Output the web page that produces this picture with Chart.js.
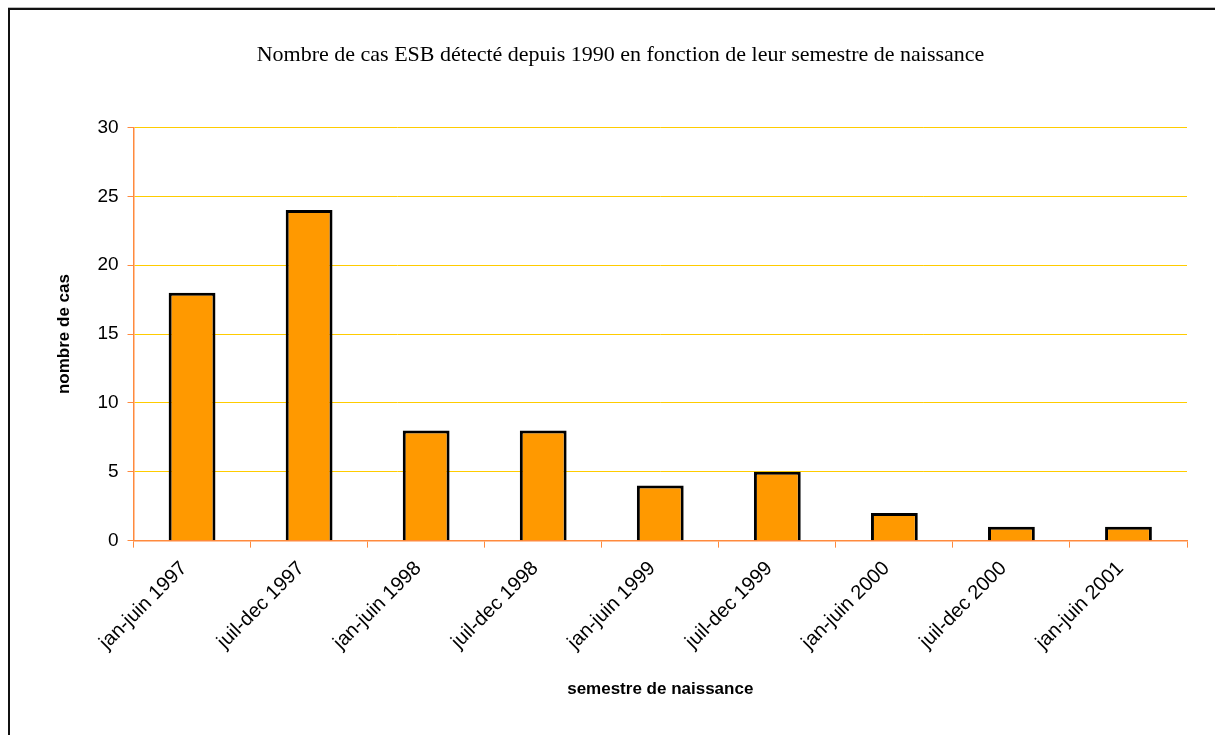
<!DOCTYPE html>
<html>
<head>
<meta charset="utf-8">
<script src="https://cdn.jsdelivr.net/npm/chart.js@4"></script>
<style>
  html, body { margin: 0; padding: 0; background: #fff; overflow: hidden; }
  #frame {
    position: absolute; left: 8px; top: 8px;
    width: 1260px; height: 780px;
    border: 2px solid #111;
    box-shadow: 0 -1px 0 #bbb;
  }
  #wrap { position: absolute; left: 0; top: 0; width: 1215px; height: 735px; }
</style>
</head>
<body>
<div id="frame"></div>
<div id="wrap"><canvas id="c" width="1215" height="735"></canvas></div>
<script>
const categories = [
  'jan-juin 1997', 'juil-dec 1997', 'jan-juin 1998', 'juil-dec 1998',
  'jan-juin 1999', 'juil-dec 1999', 'jan-juin 2000', 'juil-dec 2000', 'jan-juin 2001'
];
const cases = [18, 24, 8, 8, 4, 5, 2, 1, 1];
const yTicks = [0, 5, 10, 15, 20, 25, 30];

const chartTitle = 'Nombre de cas ESB détecté depuis 1990 en fonction de leur semestre de naissance';
const xTitle = 'semestre de naissance';
const yTitle = 'nombre de cas';

const axisOrange = '#FF8A3D';
const gridGold = '#FFCC00';

new Chart(document.getElementById('c'), {
  type: 'bar',
  data: {
    labels: categories,
    datasets: [{
      data: cases,
      backgroundColor: '#FF9900',
      borderColor: '#000000',
      borderWidth: 3,
      barPercentage: 0.4,
      categoryPercentage: 1.0
    }]
  },
  options: {
    responsive: false,
    animation: false,
    events: [],
    layout: { padding: { left: 54, right: 28, top: 24, bottom: 35 } },
    plugins: {
      legend: { display: false },
      tooltip: { enabled: false },
      title: {
        display: true,
        text: chartTitle,
        color: '#000',
        font: { family: '"Liberation Serif", "Times New Roman", serif', size: 22, weight: 'normal' },
        padding: { top: 18, bottom: 59 }
      }
    },
    scales: {
      x: {
        grid: {
          display: true,
          offset: true,
          drawOnChartArea: false,
          drawTicks: true,
          tickLength: 7,
          tickColor: axisOrange,
          color: axisOrange
        },
        border: { display: true, color: axisOrange, width: 1.5 },
        ticks: {
          color: '#000',
          minRotation: 45,
          maxRotation: 45,
          padding: 9,
          labelOffset: -8,
          font: { family: '"Liberation Sans", Arial, sans-serif', size: 20 }
        },
        title: {
          display: true,
          text: xTitle,
          color: '#000',
          padding: { top: 16, bottom: 0 },
          font: { family: '"Liberation Sans", Arial, sans-serif', size: 17, weight: 'bold' }
        }
      },
      y: {
        min: 0,
        max: 30,
        afterBuildTicks: (axis) => { axis.ticks = yTicks.map(v => ({ value: v })); },
        grid: {
          color: gridGold,
          lineWidth: 1,
          drawTicks: true,
          tickLength: 6,
          tickColor: axisOrange
        },
        border: { display: true, color: axisOrange, width: 1.5 },
        ticks: {
          color: '#000',
          padding: 9,
          font: { family: '"Liberation Sans", Arial, sans-serif', size: 19 }
        },
        title: {
          display: true,
          text: yTitle,
          color: '#000',
          padding: { top: 0, bottom: 14 },
          font: { family: '"Liberation Sans", Arial, sans-serif', size: 17, weight: 'bold' }
        }
      }
    }
  }
});
</script>
</body>
</html>
